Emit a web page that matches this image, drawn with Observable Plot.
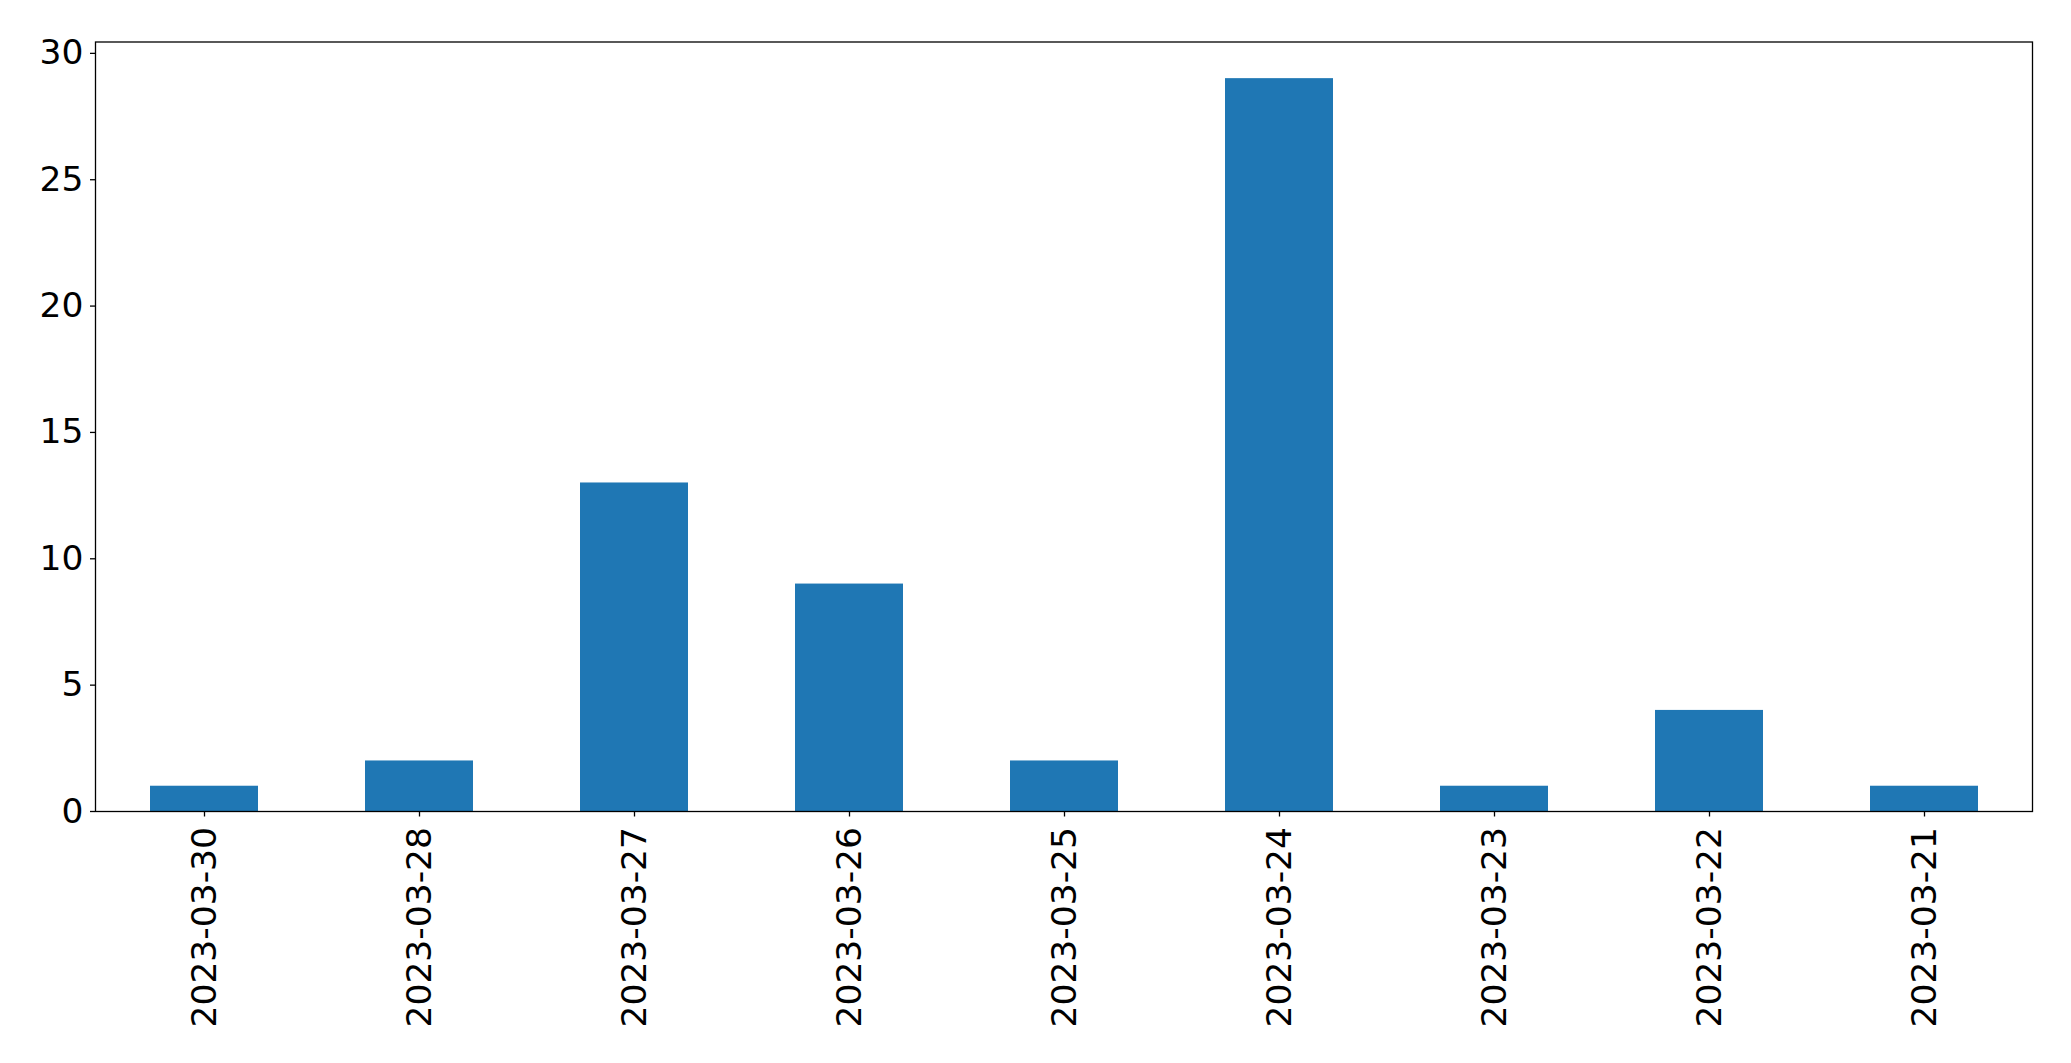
<!DOCTYPE html>
<html>
<head>
<meta charset="utf-8">
<script src="https://cdn.jsdelivr.net/npm/d3@7"></script>
<script src="https://cdn.jsdelivr.net/npm/@observablehq/plot@0.6"></script>
<style>
html, body { margin: 0; padding: 0; background: #fff; }
</style>
</head>
<body>
<div id="chart"></div>
<script>
const dates = ["2023-03-30", "2023-03-28", "2023-03-27", "2023-03-26", "2023-03-25", "2023-03-24", "2023-03-23", "2023-03-22", "2023-03-21"];
const counts = [1, 2, 13, 9, 2, 29, 1, 4, 1];
const yTicks = [0, 5, 10, 15, 20, 25, 30];

const data = dates.map((d, i) => ({date: d, count: counts[i]}));

const chart = Plot.plot({
  width: 2071,
  height: 1063,
  marginLeft: 95,
  marginRight: 39,
  marginTop: 41.5,
  marginBottom: 252,
  style: {fontFamily: "DejaVu Sans", background: "#fff", color: "#000"},
  x: {domain: dates, paddingInner: 0.5, paddingOuter: 0.25, label: null},
  y: {domain: [0, 30.45], label: null},
  marks: [
    Plot.barY(data, {x: "date", y: "count", fill: "#1f77b4"}),
    Plot.frame({stroke: "#000", strokeWidth: 1.3}),
    Plot.axisY({ticks: yTicks, tickSize: 5, tickPadding: 7, fontSize: 34.5, label: null, stroke: "#000", strokeWidth: 1.3}),
    Plot.axisX({tickSize: 5.5, tickPadding: 10, tickRotate: -90, fontSize: 34.5, label: null, stroke: "#000", strokeWidth: 1.3})
  ]
});
document.getElementById("chart").appendChild(chart);
</script>
</body>
</html>
